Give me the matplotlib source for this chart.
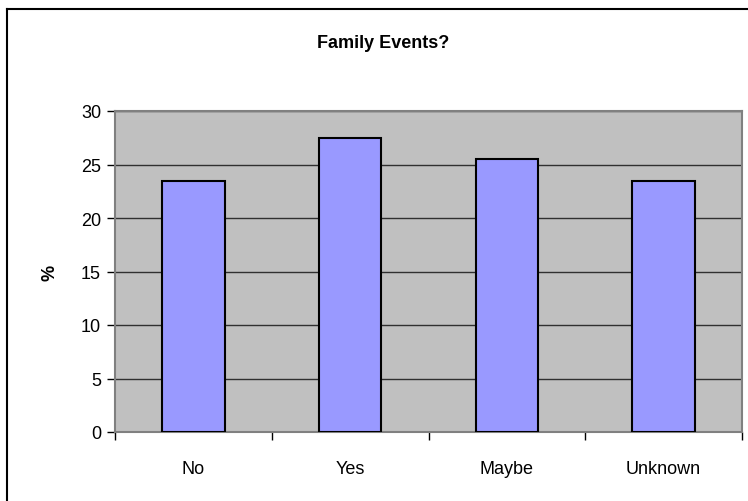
import matplotlib.pyplot as plt
from matplotlib.lines import Line2D

CATEGORIES = ["No", "Yes", "Maybe", "Unknown"]
PERCENT = [23.5, 27.5, 25.5, 23.5]
Y_TICKS = [0, 5, 10, 15, 20, 25, 30]

TITLE = "Family Events?"
Y_LABEL = "%"

W, H = 748, 502


def main() -> None:
    plt.rcParams["font.family"] = ["Liberation Sans", "DejaVu Sans"]

    fig = plt.figure(figsize=(W / 100, H / 100), dpi=100)
    fig.patch.set_facecolor("white")

    # outer chart frame, only top and left edges fall inside the picture
    fig.add_artist(Line2D([7 / W, 7 / W], [0, 1 - 10 / H], color="black", lw=1.5))
    fig.add_artist(Line2D([7 / W, 1], [1 - 10 / H, 1 - 10 / H], color="black", lw=1.5))

    ax = fig.add_axes([115 / W, 69 / H, 627 / W, 321 / H])
    ax.set_facecolor("#C0C0C0")

    x = list(range(len(CATEGORIES)))
    ax.bar(x, PERCENT, width=0.4, color="#9999FF", edgecolor="black", linewidth=1.5, zorder=3)

    ax.set_xlim(-0.5, len(CATEGORIES) - 0.5)
    ax.set_ylim(0, 30)
    ax.set_yticks(Y_TICKS)
    ax.set_yticklabels([str(t) for t in Y_TICKS], fontsize=13)
    ax.grid(axis="y", color="#303030", linewidth=1.0, zorder=1)
    ax.set_axisbelow(True)

    ax.set_xticks(x)
    ax.set_xticklabels(CATEGORIES, fontsize=13)
    ax.tick_params(axis="x", length=0, pad=20)
    ax.set_xticks([i + 0.5 for i in range(-1, len(CATEGORIES))], minor=True)
    ax.tick_params(axis="x", which="minor", length=6, width=1, color="black", direction="out")
    ax.tick_params(axis="y", length=6, width=1, color="black", direction="out", pad=4)

    for side in ["top", "right", "left", "bottom"]:
        ax.spines[side].set_color("#808080")
        ax.spines[side].set_linewidth(1.5)

    ax.set_ylabel(Y_LABEL, fontsize=13, fontweight="bold", labelpad=16)
    fig.text(383 / W, 1 - 43 / H, TITLE, ha="center", va="center", fontsize=13, fontweight="bold")

    fig.savefig("out.png", dpi=100)
    plt.close(fig)


if __name__ == "__main__":
    main()
